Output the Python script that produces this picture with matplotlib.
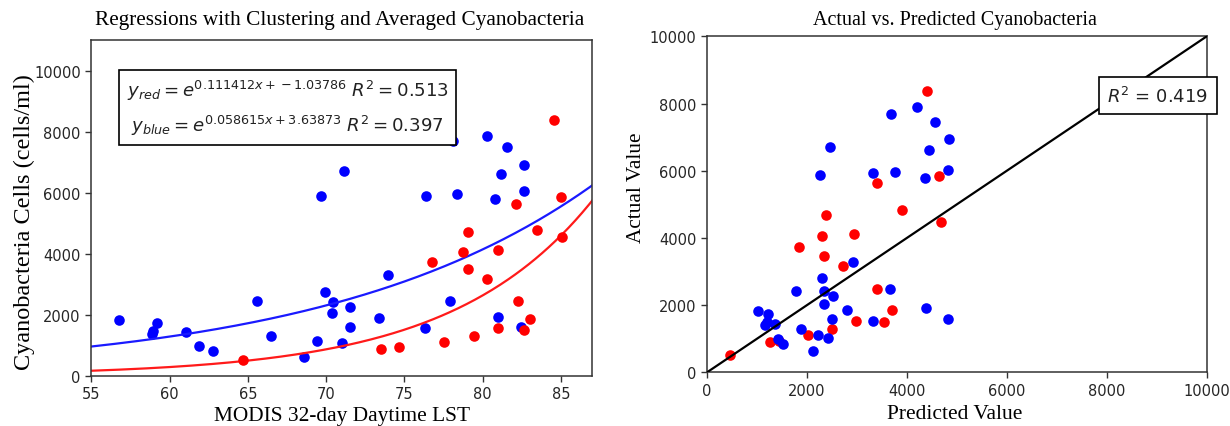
import numpy as np
import matplotlib
matplotlib.use("Agg")
import matplotlib.pyplot as plt

# ---- Left panel data (MODIS LST vs cyanobacteria) ----
blue_x = [56.8, 59.2, 58.95, 58.9, 61.05, 61.9, 62.75, 65.6, 66.5, 68.6, 69.4, 69.7,
          69.9, 70.45, 70.4, 71.0, 71.15, 71.55, 71.5, 73.95, 73.4, 76.3, 76.35, 78.35,
          77.9, 78.1, 80.25, 81.55, 82.65, 81.2, 82.65, 80.8, 80.95, 82.45]
blue_y = [1840, 1720, 1480, 1380, 1440, 985, 820, 2460, 1290, 620, 1130, 5900,
          2750, 2430, 2050, 1060, 6720, 2250, 1600, 3310, 1900, 1550, 5900, 5960,
          2460, 7690, 7870, 7490, 6920, 6610, 6050, 5790, 1910, 1610]
red_x = [84.55, 85.0, 82.15, 83.5, 85.05, 79.05, 78.75, 76.75, 79.05, 81.0, 80.25,
         82.25, 83.0, 81.0, 82.65, 79.45, 77.55, 74.65, 73.5, 64.7]
red_y = [8390, 5850, 5610, 4790, 4530, 4700, 4050, 3720, 3480, 4130, 3170,
         2460, 1860, 1550, 1500, 1290, 1100, 930, 875, 525]

# regression coefficients (as printed on the chart)
red_a, red_b = 0.111412, -1.03786
blue_a, blue_b = 0.058615, 3.63873
red_r2, blue_r2 = 0.513, 0.397

# ---- Right panel data (predicted vs actual) ----
pred_blue = [1030, 1230, 1200, 1370, 1170, 1430, 1520, 1780, 1880, 2120, 2230, 2300,
             2350, 2350, 2270, 2470, 2530, 2500, 2430, 2800, 2920, 3330, 3330, 3670,
             3690, 3770, 4200, 4390, 4370, 4450, 4570, 4850, 4830, 4830]
act_blue = [1820, 1750, 1500, 1450, 1400, 1000, 850, 2420, 1300, 650, 1120, 2800,
            2430, 2050, 5880, 6710, 2280, 1580, 1020, 1850, 3290, 1540, 5930, 2470,
            7680, 5960, 7910, 1920, 5790, 6620, 7460, 6960, 6010, 1580]
pred_red = [470, 1270, 1450, 2030, 2500, 2990, 3550, 3700, 3400, 2730, 2350, 1840,
            2300, 2950, 2380, 3910, 4680, 3400, 4650, 4410]
act_red = [520, 900, 930, 1120, 1300, 1540, 1500, 1870, 2470, 3160, 3470, 3720,
           4070, 4120, 4680, 4830, 4490, 5650, 5840, 8380]
overall_r2 = 0.419

plt.rcParams['font.family'] = ['DejaVu Sans']
serif = ['Liberation Serif', 'DejaVu Serif']
tick_color = '#262626'

fig = plt.figure(figsize=(12.3, 4.27), dpi=100)
ax1 = fig.add_axes([0.0742, 0.1178, 0.4073, 0.7862])
ax2 = fig.add_axes([0.5746, 0.1253, 0.4065, 0.7873])

# Left panel
ax1.scatter(blue_x, blue_y, s=58, c='#0000ff', linewidths=0, zorder=2)
ax1.scatter(red_x, red_y, s=58, c='#ff0000', linewidths=0, zorder=3)
xs = np.linspace(55, 87, 300)
ax1.plot(xs, np.exp(blue_a * xs + blue_b), color='#1a1aff', lw=1.6, zorder=2.5)
ax1.plot(xs, np.exp(red_a * xs + red_b), color='#ff1a1a', lw=1.6, zorder=2.5)
ax1.set_xlim(55, 87)
ax1.set_ylim(0, 11000)
ax1.set_xticks([55, 60, 65, 70, 75, 80, 85])
ax1.set_yticks([0, 2000, 4000, 6000, 8000, 10000])
eq_text = (r"$y_{red} = e^{%gx + %g}$ $R^2 = %.3f$" % (red_a, red_b, red_r2)) + "\n" + \
          (r"$y_{blue} = e^{%gx + %g}$ $R^2 = %.3f$" % (blue_a, blue_b, blue_r2))
ax1.text(0.392, 0.799, eq_text, transform=ax1.transAxes, ha='center', va='center',
         fontsize=13.1, color='#222222', linespacing=1.6, zorder=5,
         bbox=dict(boxstyle='square,pad=0.42', facecolor='white', edgecolor='black', lw=1.2))
ax1.set_xlabel('MODIS 32-day Daytime LST', family=serif, fontsize=15.4)
ax1.xaxis.set_label_coords(0.5, -0.09)
ax1.set_ylabel('Cyanobacteria Cells (cells/ml)', family=serif, fontsize=17.5)
ax1.yaxis.set_label_coords(-0.113, 0.46)
fig.text(0.2764, 0.953, 'Regressions with Clustering and Averaged Cyanobacteria',
         family=serif, fontsize=15.3, ha='center', va='center')

# Right panel
ax2.scatter(pred_red, act_red, s=58, c='#ff0000', linewidths=0, zorder=2)
ax2.scatter(pred_blue, act_blue, s=58, c='#0000ff', linewidths=0, zorder=3)
ax2.plot([0, 10000], [0, 10000], color='black', lw=1.6, zorder=4)
ax2.set_xlim(0, 10000)
ax2.set_ylim(0, 10000)
ax2.set_xticks([0, 2000, 4000, 6000, 8000, 10000])
ax2.set_yticks([0, 2000, 4000, 6000, 8000, 10000])
ax2.text(0.9026, 0.824, r"$R^2$ = %.3f" % overall_r2, transform=ax2.transAxes,
         ha='center', va='center', fontsize=13, color='#222222', zorder=6, clip_on=False,
         bbox=dict(boxstyle='square,pad=0.45', facecolor='white', edgecolor='black', lw=1.2))
ax2.set_xlabel('Predicted Value', family=serif, fontsize=15.5)
ax2.xaxis.set_label_coords(0.496, -0.095)
ax2.set_ylabel('Actual Value', family=serif, fontsize=15.3)
ax2.yaxis.set_label_coords(-0.122, 0.552)
fig.text(0.7764, 0.952, 'Actual vs. Predicted Cyanobacteria',
         family=serif, fontsize=14.5, ha='center', va='center')

for ax in (ax1, ax2):
    for sp in ax.spines.values():
        sp.set_color('#333333')
        sp.set_linewidth(1.1)
    ax.tick_params(labelsize=10.5, colors='#333333', labelcolor=tick_color, length=4, width=1)

fig.savefig('out.png', dpi=100)
